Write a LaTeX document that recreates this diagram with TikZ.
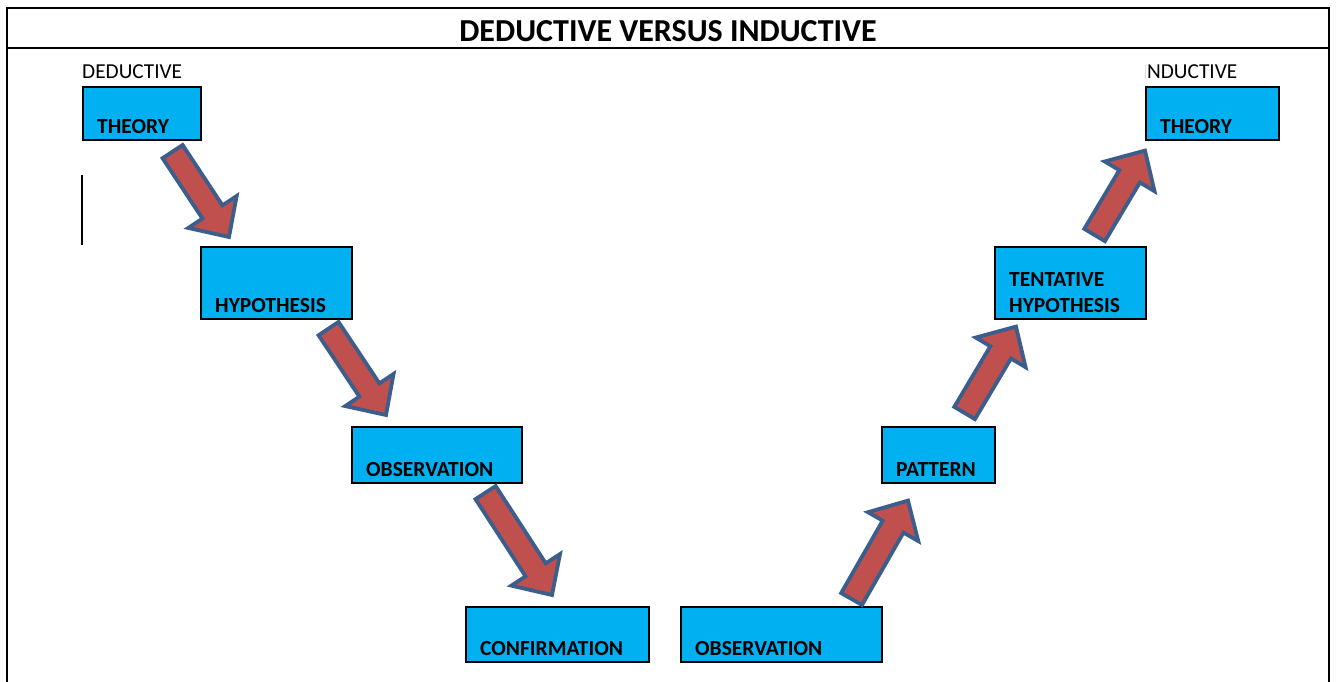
\documentclass[tikz,border=0pt]{standalone}
\usepackage{fontspec}
\setmainfont{Carlito}
\usetikzlibrary{calc}

\definecolor{boxcyan}{HTML}{00B0F0}
\definecolor{arrowred}{HTML}{C0504D}
\definecolor{arrowblue}{HTML}{3B5E8C}

\tikzset{
  stage/.style={draw=black, line width=1.6pt, fill=boxcyan, anchor=north west, inner sep=0pt},
  stagetext/.style={inner sep=0pt, font=\fontsize{21.5}{26}\selectfont\bfseries},
  sidetext/.style={anchor=base west, inner sep=0pt, font=\fontsize{21.3}{24}\selectfont},
  bigarrow/.style={draw=arrowblue, fill=arrowred, line width=3.8pt, line join=miter}
}

% block arrow from tail #1 to tip #2
\newcommand{\blockarrow}[2]{%
  \coordinate (hb) at ($(#2)!30pt!(#1)$);
  \filldraw[bigarrow] ($(#1)!12pt!90:(#2)$) -- ($(hb)!12pt!90:(#2)$)
    -- ($(hb)!29pt!90:(#2)$) -- (#2) -- ($(hb)!29pt!-90:(#2)$)
    -- ($(hb)!12pt!-90:(#2)$) -- ($(#1)!12pt!-90:(#2)$) -- cycle;}

\begin{document}
\begin{tikzpicture}[x=1pt, y=-1pt]
\useasboundingbox (0,0) rectangle (1336,682);

% frame and title
\draw[line width=2pt] (7,700) -- (7,8) -- (1329,8) -- (1329,700);
\draw[line width=2pt] (7,48) -- (1329,48);
\node[anchor=base, inner sep=0pt, font=\fontsize{32}{36}\selectfont\bfseries] (title) at (668,42) {DEDUCTIVE VERSUS INDUCTIVE};

\node[sidetext] (ded) at (82,79) {DEDUCTIVE};
\begin{scope}
\clip (1145,55) rectangle (1300,85);
\node[sidetext] (ind) at (1141.5,79) {INDUCTIVE};
\end{scope}
\draw[line width=1.5pt] (82,175) -- (82,245);

% deductive side
\node[stage, minimum width=118, minimum height=53] (thD) at (82,86) {};
\node[stage, minimum width=151, minimum height=72] (hyD) at (200,246) {};
\node[stage, minimum width=170, minimum height=56] (obD) at (351,426) {};
\node[stage, minimum width=183, minimum height=55] (cfD) at (465,606) {};

% inductive side
\node[stage, minimum width=201, minimum height=55] (obI) at (680,606) {};
\node[stage, minimum width=113, minimum height=56] (paI) at (881,426) {};
\node[stage, minimum width=151, minimum height=72] (thyI) at (994,246) {};
\node[stage, minimum width=133, minimum height=53] (thI) at (1145,86) {};

% labels
\foreach \b/\t in {thD/THEORY, hyD/HYPOTHESIS, obD/OBSERVATION, cfD/CONFIRMATION,
                   obI/OBSERVATION, paI/PATTERN, thI/THEORY}
  \node[stagetext, anchor=base west] (\b-txt) at ([shift={(15,-7)}]\b.south west) {\t};
\node[stagetext, anchor=north west, align=left] (thyI-txt) at ([shift={(15,26)}]thyI.north west) {TENTATIVE\\HYPOTHESIS};

% arrow ends
\coordinate (a1) at ([shift={(-29,11)}]thD.south east);
\coordinate (b1) at ([shift={(29,-9)}]hyD.north west);
\coordinate (a2) at ([shift={(-24,9)}]hyD.south east);
\coordinate (b2) at ([shift={(35,-11)}]obD.north west);
\coordinate (a3) at ([shift={(-37,9)}]obD.south east);
\coordinate (b3) at ([shift={(87,-11)}]cfD.north west);
\coordinate (a4) at ([shift={(-31,-7)}]obI.north east);
\coordinate (b4) at ([shift={(27,17)}]paI.south west);
\coordinate (a5) at ([shift={(-31,-13)}]paI.north east);
\coordinate (b5) at ([shift={(22,7)}]thyI.south west);
\coordinate (a6) at ([shift={(-52,-11)}]thyI.north east);
\coordinate (b6) at ([shift={(0,10)}]thI.south west);

\foreach \s/\t in {a1/b1, a2/b2, a3/b3, a4/b4, a5/b5, a6/b6}
  \blockarrow{\s}{\t};

\end{tikzpicture}
\end{document}
